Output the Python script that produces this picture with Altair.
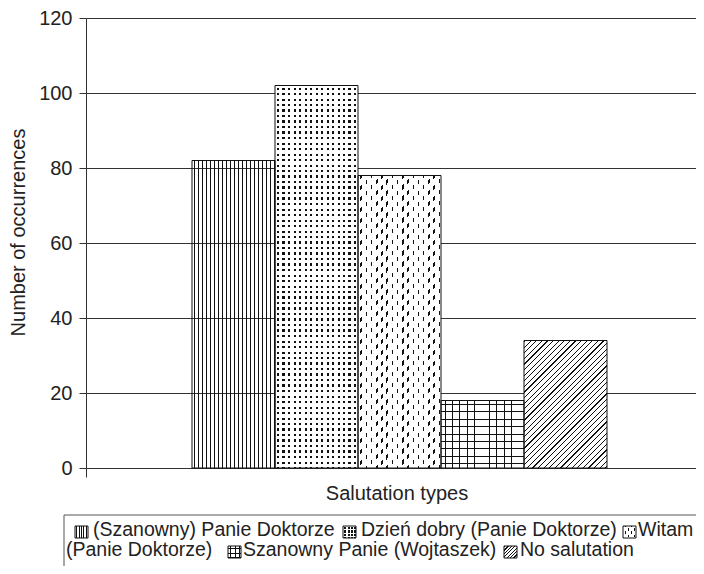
import altair as alt
import pandas as pd

# ---------------- data ----------------
categories = [
    "(Szanowny) Panie Doktorze",
    "Dzień dobry (Panie Doktorze)",
    "Witam (Panie Doktorze)",
    "Szanowny Panie (Wojtaszek)",
    "No salutation",
]
occurrences = [82, 102, 78, 18, 34]
y_ticks = [0, 20, 40, 60, 80, 100, 120]
x_title = "Salutation types"
y_title = "Number of occurrences"
legend_line1 = ["(Szanowny) Panie Doktorze", "Dzień dobry (Panie Doktorze)", "Witam"]
legend_line2 = ["(Panie Doktorze)", "Szanowny Panie (Wojtaszek)", "No salutation"]
patterns = ["vlines", "dots", "dashes", "grid", "diag"]

df = pd.DataFrame({"category": categories, "value": occurrences, "idx": list(range(len(categories)))})

# ---------------- layout / style ----------------
FONT = "Liberation Sans"
FS = 20
LFS = 19.5
TXT = "#222222"
LINE = "#333333"
BLACK = "#111111"
CLEAR = "rgba(255,255,255,0)"
WHITE = "#ffffff"

PLOT_W, PLOT_H = 610, 450
Y_MAX = 120
BAR_PX = 83
X0 = -(192 - 86) / BAR_PX
X_DOMAIN = [X0, X0 + PLOT_W / BAR_PX]
PX_PER_UNIT = PLOT_H / Y_MAX
OX, OY = 86, 18  # page position of plot origin


def stripes(T, period, width, offset, on, off):
    stops = []

    def add(t, c):
        stops.append({"offset": round(min(max(t / T, 0.0), 1.0), 6), "color": c})

    add(0, off)
    s = offset
    while s < T:
        e = min(s + width, T)
        add(s, off)
        add(s, on)
        add(e, on)
        add(e, off)
        s += period
    add(T, off)
    return stops


def grad(a, b, W, H, period, width, offset, on, off):
    T = a * W + b * H
    M = (a * W) ** 2 + (b * H) ** 2
    return {
        "gradient": "linear",
        "x1": 0, "y1": 0,
        "x2": round(T * a * W / M, 6),
        "y2": round(T * b * H / M, 6),
        "stops": stripes(T, period, width, offset, on, off),
    }


def pattern_fills(kind, W, H, k=1.0):
    if kind == "vlines":
        return [grad(1, 0, W, H, 4 * k, 1.0, 2.0 * k, BLACK, CLEAR)]
    if kind == "dots":
        return [WHITE,
                grad(1, 0, W, H, 5.5 * k, 2.2, 2.0 * k, BLACK, CLEAR),
                grad(0, 1, W, H, 5.5 * k, 2.2, 2.0 * k, CLEAR, WHITE)]
    if kind == "dashes":
        s, h = 5.2 * k, 11 * k
        return [WHITE,
                grad(1, 0, W, H, s, 1.4, 2.5 * k, BLACK, CLEAR),
                grad(h / (2 * s), 1, W, H, h, 4.2 * k, 2 * k, CLEAR, WHITE)]
    if kind == "grid":
        return [grad(1, 0, W, H, 7.4 * k, 1.0, 3.5 * k, BLACK, CLEAR),
                grad(0, 1, W, H, 7.4 * k, 1.0, 3.5 * k, BLACK, CLEAR)]
    return [WHITE, grad(1, 1, W, H, 5.6 * k, 1.25, 1 * k, BLACK, CLEAR)]


x_enc = alt.X(
    "idx:Q",
    scale=alt.Scale(domain=X_DOMAIN, nice=False, zero=False),
    axis=alt.Axis(values=[X_DOMAIN[0]], labels=False, grid=False, tickSize=9,
                  tickColor=LINE, domainColor=LINE, title=x_title, zindex=0,
                  titleFont=FONT, titleFontSize=FS, titleFontWeight="normal",
                  titleColor=TXT, titleX=396.5 - OX, titleY=31,
                  titleAlign="center", titleBaseline="alphabetic"),
)
y_enc = alt.Y(
    "value:Q",
    scale=alt.Scale(domain=[0, Y_MAX], nice=False),
    axis=alt.Axis(values=y_ticks, grid=True, gridColor=LINE, domainColor=LINE,
                  tickColor=LINE, tickSize=7, labelPadding=7, labelFont=FONT,
                  labelFontSize=FS, labelColor=TXT, title=y_title, titleFont=FONT,
                  titleFontSize=FS, titleFontWeight="normal", titleColor=TXT,
                  titleAngle=270, titleX=-62, titleY=214, titleAlign="center",
                  titleBaseline="alphabetic", zindex=0),
)

base = alt.Chart(df).transform_calculate(idx2="datum.idx + 1").encode(
    x=x_enc, x2="idx2:Q", y=y_enc, y2=alt.datum(0)
)

layers = []
for i, kind in enumerate(patterns):
    for f in pattern_fills(kind, BAR_PX, occurrences[i] * PX_PER_UNIT):
        layers.append(base.transform_filter(alt.datum.idx == i).mark_rect(fill=f))
layers.append(base.mark_rect(fillOpacity=0, stroke=BLACK, strokeWidth=1))

# ---------------- legend (drawn by hand) ----------------
one = pd.DataFrame({"k": [0]})


def legend_frame():
    top = alt.Chart(one).mark_rule(color="#555555", strokeWidth=1).encode(
        x=alt.value(64 - OX), x2=alt.value(PLOT_W), y=alt.value(515 - OY))
    left = alt.Chart(one).mark_rule(color="#555555", strokeWidth=1).encode(
        x=alt.value(64 - OX), y=alt.value(515 - OY), y2=alt.value(574 - OY))
    return [top, left]


def icon(kind, px, baseline):
    W, H = 13, 12
    x1, y1 = px - OX, baseline - 9.5 - OY
    out = []
    for f in pattern_fills(kind, W, H, 0.6):
        out.append(alt.Chart(one).mark_rect(fill=f).encode(
            x=alt.value(x1), x2=alt.value(x1 + W), y=alt.value(y1), y2=alt.value(y1 + H)))
    out.append(alt.Chart(one).mark_rect(fillOpacity=0, stroke=BLACK, strokeWidth=1).encode(
        x=alt.value(x1), x2=alt.value(x1 + W), y=alt.value(y1), y2=alt.value(y1 + H)))
    return out


def label(text, px, baseline):
    return alt.Chart(one).mark_text(align="left", baseline="alphabetic", font=FONT,
                                    fontSize=LFS, color=TXT).encode(
        x=alt.value(px - OX), y=alt.value(baseline - OY), text=alt.value(text))


B1, B2 = 535.5, 555.5
layers += legend_frame()
layers += icon(patterns[0], 75, B1)
layers.append(label(legend_line1[0], 93, B1))
layers += icon(patterns[1], 343, B1)
layers.append(label(legend_line1[1], 361, B1))
layers += icon(patterns[2], 623, B1)
layers.append(label(legend_line1[2], 638, B1))
layers.append(label(legend_line2[0], 66, B2))
layers += icon(patterns[3], 228, B2)
layers.append(label(legend_line2[1], 243, B2))
layers += icon(patterns[4], 504, B2)
layers.append(label(legend_line2[2], 520, B2))

chart = (
    alt.layer(*layers)
    .properties(width=PLOT_W, height=PLOT_H,
                padding={"left": 78, "top": 10, "right": 0, "bottom": 98},
                autosize=alt.AutoSizeParams(type="none"))
    .configure_view(strokeWidth=0)
)

chart.save("out.html", embed_options={"renderer": "svg", "actions": False})
